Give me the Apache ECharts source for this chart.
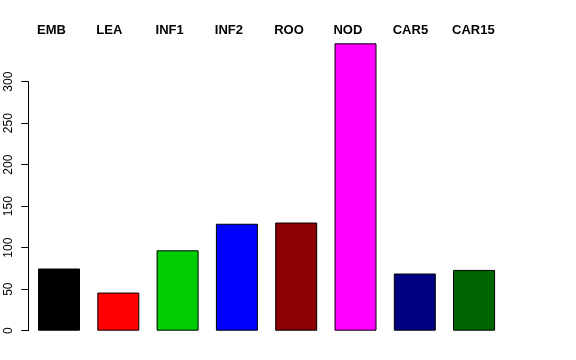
<!DOCTYPE html>
<html>
<head>
<meta charset="utf-8">
<script src="https://cdn.jsdelivr.net/npm/echarts@6/dist/echarts.min.js"></script>
<style>html,body{margin:0;padding:0;background:#fff;}#c{width:576px;height:360px;}</style>
</head>
<body>
<div id="c"></div>
<script>
var categories = ['EMB', 'LEA', 'INF1', 'INF2', 'ROO', 'NOD', 'CAR5', 'CAR15'];
var values = [75, 46, 97, 129, 130.5, 346.7, 69, 73.3];
var colors = ['#000000', '#FF0000', '#00CD00', '#0000FF', '#8B0000', '#FF00FF', '#000080', '#006400'];
var yTicks = [0, 50, 100, 150, 200, 250, 300];

var chart = echarts.init(document.getElementById('c'), null, {renderer: 'canvas'});
var font = 'Liberation Sans, Arial, Helvetica, sans-serif';
var yMax = Math.max.apply(null, values);
var option = {
  animation: false,
  backgroundColor: '#ffffff',
  grid: [
    {left: 29.35, width: 474.4, top: 43.3, bottom: 29.3},
    {left: 28.3, width: 1, top: 81.7, bottom: 29.3},
    {left: 37, width: 415, top: 43.3, bottom: 29.3}
  ],
  xAxis: [
    {gridIndex: 0, type: 'category', data: categories, show: false},
    {gridIndex: 1, type: 'value', show: false},
    {gridIndex: 2, type: 'category', data: categories, position: 'top', boundaryGap: false,
     axisLine: {show: false}, axisTick: {show: false}, splitLine: {show: false},
     axisLabel: {align: 'left', margin: 6, fontSize: 13, fontWeight: 'bold', color: '#000', fontFamily: font, interval: 0}}
  ],
  yAxis: [
    {gridIndex: 0, type: 'value', min: 0, max: yMax, show: false},
    {gridIndex: 1, type: 'value', min: yTicks[0], max: yTicks[yTicks.length - 1], interval: yTicks[1] - yTicks[0],
     axisLine: {show: true, lineStyle: {color: '#000', width: 1}},
     axisTick: {show: true, length: 7, lineStyle: {color: '#000', width: 1}},
     splitLine: {show: false},
     axisLabel: {rotate: 90, margin: 14, fontSize: 12, color: '#000', fontFamily: font}},
    {gridIndex: 2, type: 'value', show: false}
  ],
  series: [{
    type: 'bar',
    xAxisIndex: 0,
    yAxisIndex: 0,
    barWidth: 42,
    data: values.map(function (v, i) {
      return {value: v, itemStyle: {color: colors[i], borderColor: '#000', borderWidth: 1}};
    })
  }]
};
chart.setOption(option);
</script>
</body>
</html>
